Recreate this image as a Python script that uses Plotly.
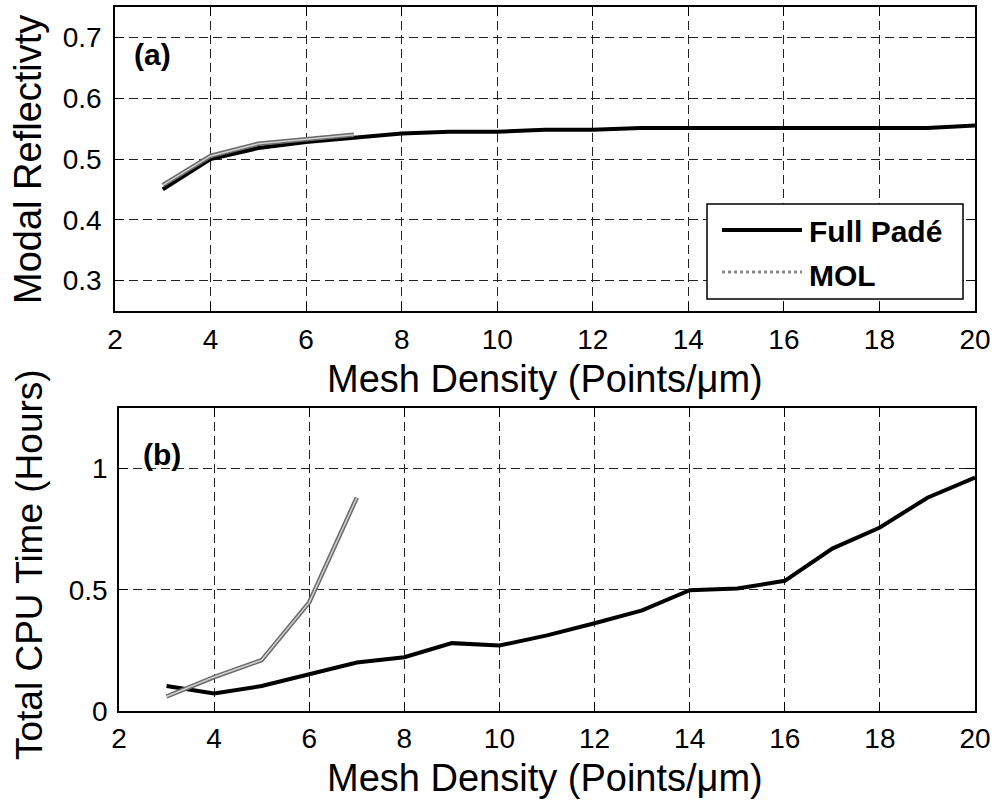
import plotly.graph_objects as go

# Data
x_pade = list(range(3, 21))
refl_pade = [0.450, 0.500, 0.518, 0.528, 0.535, 0.542, 0.545, 0.545, 0.548, 0.548,
             0.551, 0.551, 0.551, 0.551, 0.551, 0.551, 0.551, 0.555]
cpu_pade = [0.103, 0.072, 0.103, 0.152, 0.200, 0.222, 0.280, 0.270, 0.312, 0.362,
            0.415, 0.498, 0.505, 0.537, 0.670, 0.757, 0.880, 0.963]
x_mol = [3, 4, 5, 6, 7]
refl_mol = [0.457, 0.505, 0.525, 0.533, 0.540]
cpu_mol = [0.060, 0.140, 0.210, 0.448, 0.880]

x_ticks = [2, 4, 6, 8, 10, 12, 14, 16, 18, 20]
y1_ticks = [0.3, 0.4, 0.5, 0.6, 0.7]
y2_ticks = [0, 0.5, 1]
y2_labels = ["0", "0.5", "1"]

W, H = 996, 800
FONT = "Liberation Sans, Arial, sans-serif"


def px(x):
    return x / W


def py(y):
    return 1 - y / H


fig = go.Figure()


def mol_traces(x, y, xa, ya):
    fig.add_trace(go.Scatter(x=x, y=y, mode="lines", line=dict(color="#6a6a6a", width=4.5),
                             name="MOL", showlegend=False, xaxis=xa, yaxis=ya))
    fig.add_trace(go.Scatter(x=x, y=y, mode="lines", line=dict(color="#cfcfcf", width=1.5),
                             name="MOL", showlegend=False, xaxis=xa, yaxis=ya))


# top panel
fig.add_trace(go.Scatter(x=x_pade, y=refl_pade, mode="lines", line=dict(color="black", width=4),
                         name="Full Padé", showlegend=False, xaxis="x", yaxis="y"))
mol_traces(x_mol, refl_mol, "x", "y")
# bottom panel
fig.add_trace(go.Scatter(x=x_pade, y=cpu_pade, mode="lines", line=dict(color="black", width=4),
                         name="Full Padé", showlegend=False, xaxis="x2", yaxis="y2"))
mol_traces(x_mol, cpu_mol, "x2", "y2")

axis_common = dict(showline=True, linecolor="black", linewidth=1.5, mirror="ticks",
                   ticks="inside", ticklen=9, tickcolor="black", tickwidth=1.2, showgrid=True,
                   gridcolor="#222", griddash="9px,5px", gridwidth=1, zeroline=False,
                   automargin=False,
                   tickfont=dict(family=FONT, size=28, color="black"))

fig.update_layout(
    width=W, height=H, margin=dict(l=0, r=0, t=0, b=0, autoexpand=False),
    paper_bgcolor="white", plot_bgcolor="white", showlegend=False,
    xaxis=dict(domain=[px(115), px(975)], range=[2, 20], tickvals=x_ticks, anchor="y",
               ticklabelstandoff=3, **axis_common),
    yaxis=dict(domain=[py(311), py(7)], range=[0.25, 0.75], tickvals=y1_ticks,
               tickformat=".1f", anchor="x", ticklabelstandoff=6, **axis_common),
    xaxis2=dict(domain=[px(119), px(975)], range=[2, 20], tickvals=x_ticks, anchor="y2",
                ticklabelstandoff=2, **axis_common),
    yaxis2=dict(domain=[py(711), py(408)], range=[0, 1.25], tickvals=y2_ticks,
                ticktext=y2_labels, anchor="x2", ticklabelstandoff=4, **axis_common),
)

# legend box (top panel)
fig.add_shape(type="rect", xref="paper", yref="paper", x0=px(707), x1=px(963), y0=py(299), y1=py(204),
              fillcolor="white", line=dict(color="black", width=1.5), layer="above")
fig.add_shape(type="line", xref="paper", yref="paper", x0=px(722), x1=px(802), y0=py(230), y1=py(230),
              line=dict(color="black", width=4), layer="above")
fig.add_shape(type="line", xref="paper", yref="paper", x0=px(722), x1=px(802), y0=py(272), y1=py(272),
              line=dict(color="#8a8a8a", width=3, dash="dot"), layer="above")

ann = [
    dict(text="<b>Full Padé</b>", x=px(807), y=py(231), font=dict(size=30), xanchor="left"),
    dict(text="<b>MOL</b>", x=px(807), y=py(275), font=dict(size=30), xanchor="left"),
    dict(text="<b>(a)</b>", x=px(152), y=py(55), font=dict(size=30)),
    dict(text="<b>(b)</b>", x=px(162), y=py(454), font=dict(size=30)),
    dict(text="Mesh Density (Points/μm)", x=px(545), y=py(379), font=dict(size=38)),
    dict(text="Mesh Density (Points/μm)", x=px(545), y=py(778), font=dict(size=38)),
    dict(text="Modal Reflectivty", x=px(28), y=py(160), font=dict(size=38), textangle=-90),
    dict(text="Total CPU Time (Hours)", x=px(29), y=py(565), font=dict(size=37), textangle=-90),
]
for a in ann:
    a["font"].update(family=FONT, color="black")
    a.setdefault("xanchor", "center")
    fig.add_annotation(xref="paper", yref="paper", showarrow=False, yanchor="middle", **a)

fig.write_html("out.html", config={"displayModeBar": False},
               post_script="document.body.style.margin='0';")
